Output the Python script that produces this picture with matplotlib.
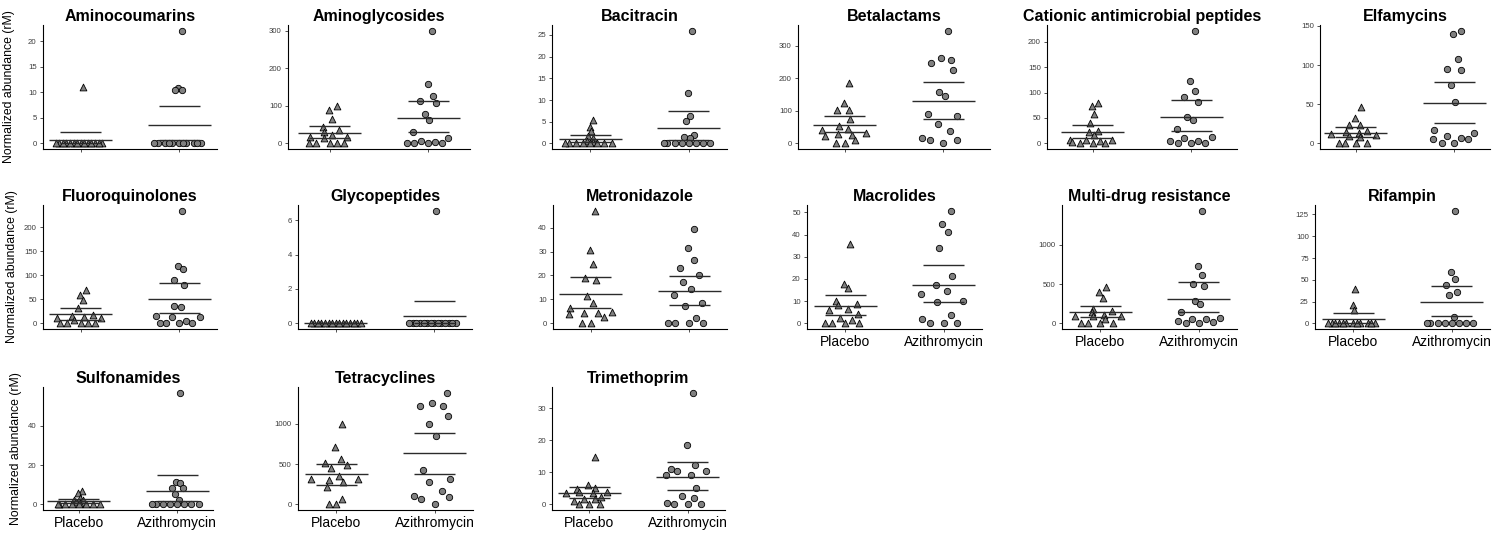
import numpy as np
import matplotlib
matplotlib.use("Agg")
import matplotlib.pyplot as plt

plt.rcParams['font.family'] = ['Liberation Sans', 'DejaVu Sans']

# ==============================================================================
# DATA
# ==============================================================================

groups = ["Placebo", "Azithromycin"]

classes = ["Aminocoumarins", "Aminoglycosides", "Bacitracin", "Betalactams",
           "Cationic antimicrobial peptides", "Elfamycins", "Fluoroquinolones",
           "Glycopeptides", "Metronidazole", "Macrolides", "Multi-drug resistance",
           "Rifampin", "Sulfonamides", "Tetracyclines", "Trimethoprim"]

placebo_values = [
    [11.1] + [0] * 14,
    [98.6, 89.7, 63.7, 43, 35, 31.4, 21.5, 17, 16, 13.5, 0, 0, 0, 0, 0],
    [5.3, 3.8, 2.8, 1.8, 1.3, 0.6, 0.3, 0, 0, 0, 0, 0, 0, 0, 0],
    [185, 125, 101, 101, 75, 53, 45, 40, 33, 30, 26, 22, 10, 1, 0],
    [79, 73, 56.8, 41, 25, 21.8, 15.8, 7, 7, 7, 4.6, 2, 0, 0, 0],
    [46, 32.5, 23.5, 23, 16, 14, 13, 12, 10.3, 10, 7.7, 0, 0, 0, 0],
    [68.8, 59.7, 48, 32, 16.7, 15.3, 12.5, 11, 11, 7.6, 0, 0, 0, 0, 0],
    [0] * 15,
    [47.1, 30.6, 25, 18.9, 18, 11.3, 8.7, 6.6, 4.6, 4.3, 4.3, 3.8, 2.5, 0, 0],
    [35.7, 17.9, 15.8, 9.9, 8.9, 8.4, 6.5, 6.2, 4.1, 2.4, 1.7, 0, 0, 0, 0],
    [460, 404, 323, 183, 153, 140, 110, 98, 89, 89, 60, 0, 0, 0, 0],
    [39.5, 21.5, 15.7] + [0] * 12,
    [7.0, 5.9, 3.2, 2.3, 2.1, 1.2, 0.8, 0.4, 0, 0, 0, 0, 0, 0, 0],
    [990, 715, 567, 517, 485, 452, 353, 312, 312, 308, 279, 218, 62, 0, 0],
    [14.8, 6.2, 5.0, 4.7, 3.9, 3.9, 3.7, 3.6, 2.2, 1.6, 1.6, 1.1, 0, 0, 0],
]

azithro_values = [
    [22.1, 10.9, 10.4, 10.4] + [0] * 11,
    [300.4, 157.8, 125.6, 113, 108.5, 78, 61, 30.5, 14.3, 5.4, 2.7, 0, 0, 0, 0],
    [26, 11.6, 6.4, 5.1, 1.9, 1.4, 1.3, 0, 0, 0, 0, 0, 0, 0, 0],
    [346, 261, 256, 247, 225, 158, 146, 91, 85, 58, 38, 15, 11, 10, 0],
    [221.8, 122.8, 102.3, 90.4, 80.5, 52.8, 46.9, 29, 11.9, 10.6, 5.3, 5.3, 0, 0, 0],
    [144, 140, 107.5, 94.6, 93.4, 74, 52.7, 17, 13.3, 9.4, 7.3, 6, 5.5, 0, 0],
    [234, 118.8, 112.5, 89.6, 80.5, 35.4, 34, 16, 13.9, 13.9, 4, 0, 0, 0, 0],
    [6.55] + [0] * 14,
    [39.4, 31.3, 26.3, 23.2, 20.4, 17.3, 14.5, 11.9, 8.7, 7.1, 2.2, 0, 0, 0, 0],
    [50.8, 44.9, 41, 33.9, 21.2, 17.3, 14.5, 13.1, 10.2, 9.8, 3.6, 2.1, 0, 0, 0],
    [1434, 732, 621, 506, 472, 281, 243, 145, 68, 60, 60, 30, 21, 0, 0],
    [129.4, 58.7, 51.4, 44.5, 35.7, 32.6, 7.7] + [0] * 8,
    [56.9, 11.3, 11.1, 8.4, 8.4, 5.4, 2.0] + [0] * 8,
    [1384, 1253, 1216, 1216, 1097, 994, 846, 431, 320, 279, 172, 103, 94, 70, 0],
    [34.85, 18.5, 12.2, 10.9, 10.5, 10.4, 9.1, 9.1, 5.2, 2.7, 2.1, 0.5, 0, 0, 0],
]

# 95% CI bounds drawn as short lines
placebo_ci_lo = [0, 14.3, 0.3, 35, 11.2, 8.6, 7.6, 0, 6.6, 3.8, 77, 0, 0.6, 246, 1.9]
placebo_ci_hi = [2.24, 45.7, 1.9, 84.5, 36.3, 20.6, 31, 0, 19.4, 13, 217, 11.9, 2.5, 505, 5.3]
azithro_ci_lo = [0.66, 29.6, 0.8, 76, 24.4, 26, 21.5, 0, 7.55, 9.5, 140, 8.8, 1.7, 378, 4.45]
azithro_ci_hi = [7.26, 113, 7.5, 187.6, 85, 78.4, 84.7, 1.32, 19.7, 26.5, 523, 43, 15.2, 883, 13.3]

# y ticks: step and last labelled value of each panel
y_tick_step = [5, 100, 5, 100, 50, 50, 50, 2, 10, 10, 500, 25, 20, 500, 10]
y_tick_max = [20, 300, 25, 300, 200, 150, 200, 6, 40, 50, 1000, 125, 40, 1000, 30]

# ==============================================================================
# LAYOUT (pixel boxes of each panel: left, right / row top, bottom)
# ==============================================================================

FIG_W, FIG_H = 1510, 535
row_box = [(25, 149), (205, 329), (387, 510)]
col_box = [
    [(43, 217), (288, 470), (552, 727), (798, 990), (1047, 1237), (1320, 1490)],
    [(43, 217), (298, 472), (553, 727), (807, 982), (1062, 1237), (1315, 1490)],
    [(43, 213), (298, 473), (552, 725)],
]
ylabel_right_px = [15, 18, 22]
TICK_SPACING_PX = 98.5
JITTER_WIDTH = 0.29
MEAN_HALF = 0.32
CI_HALF = 0.21
POINT_COLOR = '#808080'
LINE_COLOR = '#2b2b2b'
LABELLED_X = {9, 10, 11, 12, 13, 14}


def van_der_corput(n, base=2):
    seq = []
    for k in range(1, n + 1):
        q, denom, v = k, 1.0, 0.0
        while q:
            denom *= base
            q, rem = divmod(q, base)
            v += rem / denom
        seq.append(v)
    return np.array(seq)


def bw_nrd0(x):
    hi = np.std(x, ddof=1)
    q75, q25 = np.percentile(x, [75, 25])
    lo = min(hi, (q75 - q25) / 1.34)
    if not lo:
        lo = hi or abs(x[0]) or 1.0
    return 0.9 * lo * len(x) ** -0.2


def quasirandom_offsets(y, width, adjust=0.5):
    """Deterministic quasirandom spread (van der Corput ranks scaled by density)."""
    y = np.asarray(y, float)
    bw = bw_nrd0(y) * adjust
    grid = np.linspace(y.min() - 3 * bw, y.max() + 3 * bw, 1000)
    kde = lambda t: np.exp(-0.5 * ((np.atleast_1d(t)[:, None] - y[None, :]) / bw) ** 2).sum(1)
    dens = kde(y) / kde(grid).max()
    rank = np.empty(len(y), int)
    rank[np.argsort(y, kind='stable')] = np.arange(len(y))
    vdc = van_der_corput(len(y))[rank]
    return (vdc - 0.5) * 2 * dens * width


fig = plt.figure(figsize=(FIG_W / 100, FIG_H / 100), dpi=100)

for k, name in enumerate(classes):
    r, c = divmod(k, 6)
    left, right = col_box[r][c]
    top, bottom = row_box[r]
    w, h = right - left, bottom - top
    ax = fig.add_axes([left / FIG_W, 1 - bottom / FIG_H, w / FIG_W, h / FIG_H])

    series = [np.array(placebo_values[k], float), np.array(azithro_values[k], float)]
    ci = [(placebo_ci_lo[k], placebo_ci_hi[k]), (azithro_ci_lo[k], azithro_ci_hi[k])]

    lo = min(min(s.min() for s in series), min(v[0] for v in ci))
    hi = max(max(s.max() for s in series), max(v[1] for v in ci))
    pad = 0.05 * (hi - lo if hi > lo else 1)
    half_w = w / 2 / TICK_SPACING_PX

    for g, (vals, marker, size) in enumerate(zip(series, ['^', 'o'], [24, 21])):
        xpos = g + 1
        offs = quasirandom_offsets(vals, JITTER_WIDTH)
        ax.scatter(xpos + offs, vals, marker=marker, s=size, facecolor=POINT_COLOR,
                   edgecolor='black', linewidth=0.6, zorder=2, clip_on=False)
        m = vals.mean()
        ax.hlines(m, xpos - MEAN_HALF, xpos + MEAN_HALF, color=LINE_COLOR, lw=1.0, zorder=3)
        ax.hlines(ci[g], xpos - CI_HALF, xpos + CI_HALF, color=LINE_COLOR, lw=1.0, zorder=3)

    ax.set_xlim(1.5 - half_w, 1.5 + half_w)
    ax.set_ylim(lo - pad, hi + pad)
    ax.set_yticks(np.arange(0, y_tick_max[k] + y_tick_step[k] / 2, y_tick_step[k]))
    ax.set_xticks([1, 2])
    if k in LABELLED_X:
        ax.set_xticklabels(groups, fontsize=10, color='black')
    else:
        ax.set_xticklabels(['', ''])

    for side in ['top', 'right']:
        ax.spines[side].set_visible(False)
    for side in ['left', 'bottom']:
        ax.spines[side].set_linewidth(0.8)
    ax.tick_params(axis='y', labelsize=5.6, labelcolor='#3d3d3d', length=2,
                   width=0.6, color='#333333', pad=2.5)
    ax.tick_params(axis='x', length=2, width=0.6, color='#333333', pad=2)

    ax.set_title(name, fontsize=11.5, fontweight='bold', pad=3)
    if c == 0:
        ax.set_ylabel('Normalized abundance (rM)', fontsize=8.8)
        ax.yaxis.set_label_coords((ylabel_right_px[r] - left) / w, 0.5)

plt.savefig("out.png", dpi=100)
